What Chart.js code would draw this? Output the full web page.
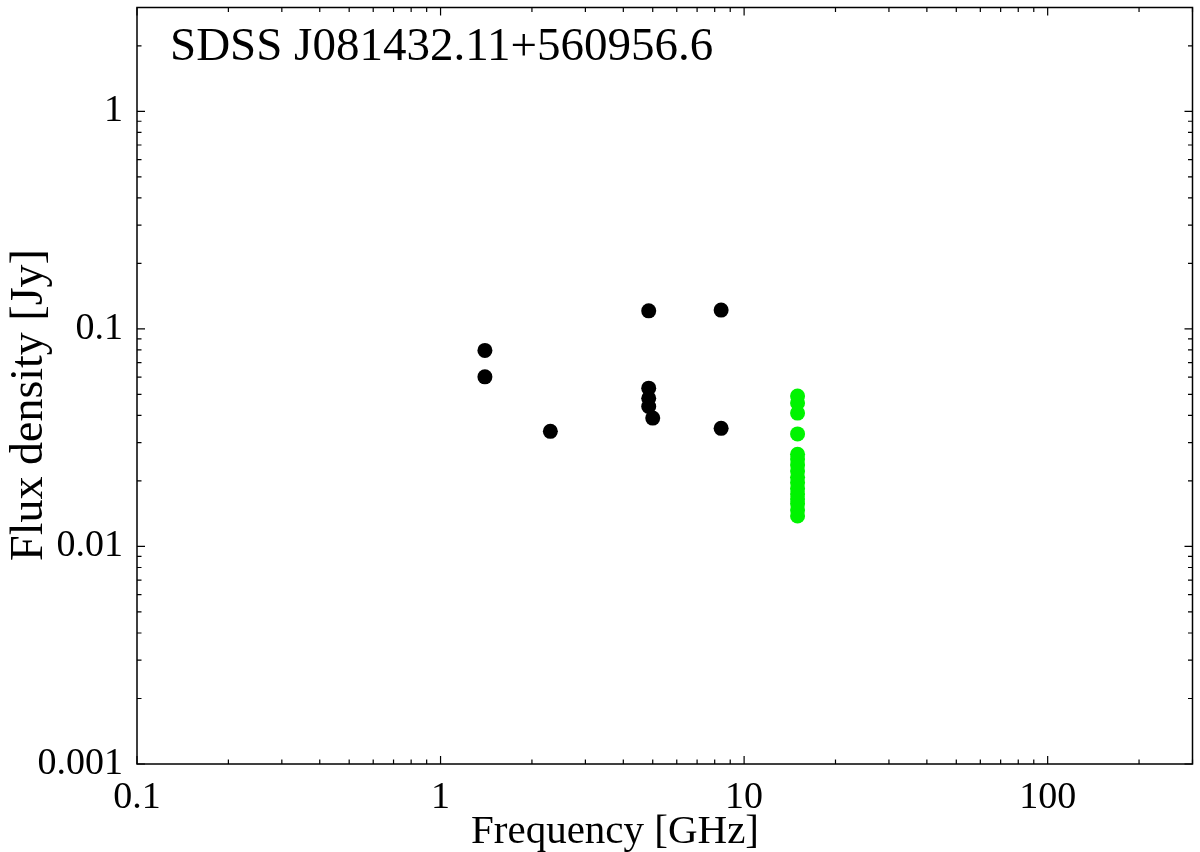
<!DOCTYPE html>
<html>
<head>
<meta charset="utf-8">
<script src="https://cdn.jsdelivr.net/npm/chart.js@4.4.0/dist/chart.umd.min.js"></script>
<style>
  html, body { margin: 0; padding: 0; background: #fff; overflow: hidden; }
  #wrap { width: 1200px; height: 852px; }
  canvas { display: block; }
</style>
</head>
<body>
<div id="wrap"><canvas id="sedChart" width="1200" height="852"></canvas></div>
<script>
// Radio spectrum of SDSS J081432.11+560956.6
const sourceName = 'SDSS J081432.11+560956.6';
const xTitle = 'Frequency [GHz]';
const yTitle = 'Flux density [Jy]';

// archival measurements (GHz, Jy)
const archFreq = [1.4, 1.4, 2.3, 4.85, 4.85, 4.85, 4.85, 5.0, 8.4, 8.4];
const archFlux = [0.0796, 0.0602, 0.0338, 0.121, 0.0534, 0.0480, 0.0440, 0.0389, 0.122, 0.0349];

// 15 GHz monitoring (Jy)
const ovroFreq = 15;
const ovroFlux = [0.0491, 0.0456, 0.0410, 0.0329, 0.0265, 0.0252, 0.0237, 0.0222,
                  0.0208, 0.0196, 0.0184, 0.0174, 0.0165, 0.0157, 0.0147, 0.0138];

const xTicks = [0.1, 1, 10, 100];
const yTicks = [0.001, 0.01, 0.1, 1];
const xRange = [0.1, 300];
const yRange = [0.001, 3];

const serif = '"Liberation Serif", "DejaVu Serif", serif';

// box, inward ticks on all sides, in-plot name, axis titles
const framePlugin = {
    id: 'frame',
    afterDraw(chart) {
        const { ctx, chartArea: a, scales: { x, y } } = chart;
        ctx.save();
        ctx.strokeStyle = '#000';
        ctx.lineWidth = 1.5;
        ctx.strokeRect(a.left, a.top, a.right - a.left, a.bottom - a.top);

        ctx.beginPath();
        for (let d = 0.1; d < x.max; d *= 10) {
            for (let m = 1; m <= 9; m++) {
                const v = d * m;
                if (v > x.max) break;
                const px = x.getPixelForValue(v);
                const len = m === 1 ? 8 : 4.5;
                ctx.moveTo(px, a.bottom); ctx.lineTo(px, a.bottom - len);
                ctx.moveTo(px, a.top); ctx.lineTo(px, a.top + len);
            }
        }
        for (let d = 0.001; d < y.max; d *= 10) {
            for (let m = 1; m <= 9; m++) {
                const v = d * m;
                if (v > y.max) break;
                const py = y.getPixelForValue(v);
                const len = m === 1 ? 8 : 4.5;
                ctx.moveTo(a.left, py); ctx.lineTo(a.left + len, py);
                ctx.moveTo(a.right, py); ctx.lineTo(a.right - len, py);
            }
        }
        ctx.lineWidth = 1.2;
        ctx.stroke();

        ctx.fillStyle = '#000';
        ctx.textBaseline = 'alphabetic';
        ctx.textAlign = 'left';
        ctx.font = '47px ' + serif;
        ctx.fillText(sourceName, a.left + 33, 60);

        ctx.textAlign = 'center';
        ctx.font = '41px ' + serif;
        ctx.fillText(xTitle, 615, 843);

        ctx.save();
        ctx.translate(42, 405);
        ctx.rotate(-Math.PI / 2);
        ctx.font = '46px ' + serif;
        ctx.fillText(yTitle, 0, 0);
        ctx.restore();
        ctx.restore();
    }
};

const ctx = document.getElementById('sedChart').getContext('2d');
const sedChart = new Chart(ctx, {
    type: 'scatter',
    data: {
        datasets: [{
            label: 'archival',
            data: archFreq.map((f, i) => ({ x: f, y: archFlux[i] })),
            backgroundColor: '#000',
            borderColor: '#000',
            pointRadius: 7.5,
            borderWidth: 0
        }, {
            label: '15 GHz',
            data: ovroFlux.map(v => ({ x: ovroFreq, y: v })),
            backgroundColor: '#00f400',
            borderColor: '#00f400',
            pointRadius: 7.5,
            borderWidth: 0
        }]
    },
    options: {
        responsive: false,
        animation: false,
        devicePixelRatio: 1,
        layout: { padding: { top: 5, right: 3, left: 0, bottom: 0 } },
        plugins: {
            legend: { display: false },
            tooltip: { enabled: false }
        },
        scales: {
            x: {
                type: 'logarithmic',
                position: 'bottom',
                min: xRange[0],
                max: xRange[1],
                afterBuildTicks: s => { s.ticks = xTicks.map(v => ({ value: v, major: true })); },
                afterFit: s => { s.height = 88; s.paddingLeft = 0; s.paddingRight = 0; },
                grid: { display: false, drawTicks: false },
                border: { display: false },
                ticks: {
                    color: '#000',
                    font: { family: serif, size: 38 },
                    maxRotation: 0,
                    autoSkip: false,
                    padding: 11,
                    callback: v => String(v)
                }
            },
            y: {
                type: 'logarithmic',
                position: 'left',
                min: yRange[0],
                max: yRange[1],
                afterBuildTicks: s => { s.ticks = yTicks.map(v => ({ value: v, major: true })); },
                afterFit: s => { s.width = 137; s.paddingTop = 0; s.paddingBottom = 0; },
                grid: { display: false, drawTicks: false },
                border: { display: false },
                ticks: {
                    color: '#000',
                    font: { family: serif, size: 38 },
                    autoSkip: false,
                    padding: 14,
                    callback: v => String(v)
                }
            }
        }
    },
    plugins: [framePlugin]
});
</script>
</body>
</html>
